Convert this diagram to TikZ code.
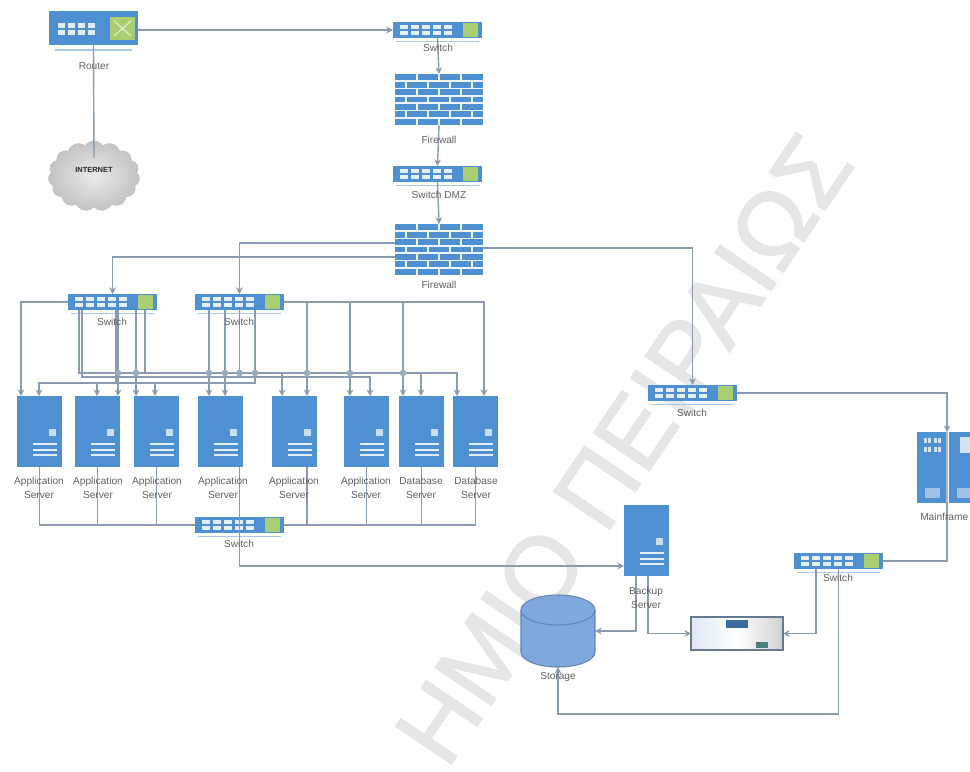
\documentclass[tikz,border=0pt]{standalone}
\usepackage{fontspec}
\setmainfont{Liberation Sans}
\newfontfamily\wmfont[FakeBold=1.6]{Liberation Sans}
\usetikzlibrary{arrows.meta,calc,shapes.symbols}
\definecolor{nblue}{HTML}{4F90D2}
\definecolor{ngreen}{HTML}{A9CF72}
\definecolor{cnc}{HTML}{8A9BB0}
\definecolor{wm}{HTML}{E6E6E6}
\definecolor{lt}{HTML}{A8C8EA}
\definecolor{cyl}{HTML}{7FA8DC}
\definecolor{cyd}{HTML}{5F86B8}
\tikzset{
  swbody/.style={fill=nblue,inner sep=0pt,outer sep=0pt,minimum width=66.75pt,minimum height=12pt,anchor=north west},
  srvbody/.style={fill=nblue,inner sep=0pt,outer sep=0pt,minimum width=33.75pt,minimum height=53.25pt,anchor=north west},
  fwbody/.style={fill=nblue,inner sep=0pt,outer sep=0pt,minimum width=66pt,minimum height=38.25pt,anchor=north west},
  lab/.style={font=\fontsize{7.6}{10.8}\selectfont,text=black!62,align=center,inner sep=0pt},
  cn/.style={draw=cnc,line width=1.05pt},
  cna/.style={cn,-{Stealth[length=5pt,width=5pt]}},
  bump/.style={circle,fill=cnc!85,inner sep=0pt,minimum size=5pt},
}
\newcommand\swt[3]{%
  \node[swbody] (#1) at (#2,#3) {};
  \begin{scope}[shift={(#2,#3)}]
    \foreach \i in {0,...,4}{
      \fill[white!85!nblue] (7+11*\i,3) rectangle ++(8,4);
      \fill[white!85!nblue] (7+11*\i,9) rectangle ++(8,4);
    }
    \fill[ngreen] (70,1) rectangle (85,15);
    \draw[lt,line width=0.7pt] (3,19) -- (86,19);
  \end{scope}}
\newcommand\srv[3]{%
  \node[srvbody] (#1) at (#2,#3) {};
  \begin{scope}[shift={(#2,#3)}]
    \fill[white!70!nblue] (32,33) rectangle ++(6.5,7);
    \foreach \v in {47,53,58}{\fill[white!85!nblue] (16,\v) rectangle ++(24,1.5);}
  \end{scope}}
\newcommand\fwl[3]{%
  \node[fwbody] (#1) at (#2,#3) {};
  \begin{scope}[shift={(#2,#3)}]
    \foreach \r in {1,...,6}{\fill[white!90!nblue] (0,7.29*\r-.8) rectangle (88,7.29*\r+.8);}
    \foreach \r in {0,2,4,6}{\foreach \c in {22,44,66}{\fill[white!90!nblue] (\c-.8,7.29*\r) rectangle (\c+.8,7.29*\r+7.29);}}
    \foreach \r in {1,3,5}{\foreach \c in {11,33,55,77}{\fill[white!90!nblue] (\c-.8,7.29*\r) rectangle (\c+.8,7.29*\r+7.29);}}
  \end{scope}}
\begin{document}
\begin{tikzpicture}[x=0.75pt,y=-0.75pt]
\useasboundingbox (0,0) rectangle (970,771);
\clip (0,0) rectangle (970,771);
\fill[white] (0,0) rectangle (970,771);
% watermark
\node[rotate=56,anchor=south east,inner sep=0pt,text=wm,font=\wmfont\fontsize{73.5}{74}\selectfont] (wmark) at (857,165) {ΗΜΙΟ ΠΕΙΡΑΙΩΣ};
% router
\node[fill=nblue,inner sep=0pt,outer sep=0pt,minimum width=66.75pt,minimum height=25.5pt,anchor=north west] (rt) at (49,11) {};
\foreach \i in {0,1,2,3}{
  \fill[white!85!nblue] (58+10*\i,23) rectangle ++(7,5);
  \fill[white!85!nblue] (58+10*\i,30) rectangle ++(7,5);
}
\fill[ngreen] (110,17) rectangle (135,40);
\draw[white!70!ngreen,line width=0.8pt] (114,21) -- (131,36) (131,21) -- (114,36);
\draw[lt,line width=0.8pt] (55,50) -- (132,50);
% cloud
\node[cloud,cloud puffs=15,cloud puff arc=110,aspect=1.3,inner sep=0pt,minimum width=69pt,minimum height=53pt,shade,inner color=black!8,outer color=black!24] (inet) at (94,176) {};
\coordinate (inetin) at (94,158);
% switches and firewalls
\swt{swa}{393}{22}
\fwl{fwa}{395}{74}
\swt{swd}{393}{166}
\fwl{fwb}{395}{224}
\swt{swL}{68}{294}
\swt{swM}{195}{294}
\swt{swB}{195}{517}
\swt{swR}{648}{385}
\swt{swC}{794}{553}
% servers
\srv{sa}{17}{396}\srv{sb}{75}{396}\srv{sc}{134}{396}\srv{sd}{198}{396}
\srv{se}{272}{396}\srv{sf}{344}{396}\srv{sg}{399}{396}\srv{sh}{453}{396}
\srv{bk}{624}{505}
% mainframe
\node[inner sep=0pt,outer sep=0pt,minimum width=45pt,minimum height=53.25pt,anchor=north west] (mf) at (917,432) {};
\fill[nblue] (917,432) rectangle (946,503);
\fill[nblue] (949,432) rectangle (977,503);
\foreach \a in {924,928,934,938}{\foreach \b in {438,447}{\fill[white!75!nblue] (\a,\b) rectangle ++(2.6,5);}}
\fill[white!75!nblue] (960,437) rectangle (970,453);
\fill[white!45!nblue] (925,488) rectangle (940,498);
\fill[white!45!nblue] (957,488) rectangle (970,498);
% storage
\node[inner sep=0pt,outer sep=0pt,minimum width=55.5pt,minimum height=54pt] (st) at (558,631) {};
\path[fill=cyl,draw=cyd,line width=0.8pt] (521,610) -- (521,652) arc[start angle=180,end angle=0,x radius=37,y radius=15] -- (595,610) arc[start angle=0,end angle=-180,x radius=37,y radius=15] -- cycle;
\path[draw=cyd,line width=0.8pt] (521,610) arc[start angle=180,end angle=0,x radius=37,y radius=15];
% device
\node[inner sep=0pt,outer sep=0pt,minimum width=69pt,minimum height=24.75pt,anchor=north west,draw=black!55!nblue!70,line width=0.9pt,left color=black!8!nblue!18,right color=black!18,middle color=white] (dev) at (691,617) {};
\node[fill=black!25!nblue,inner sep=0pt,minimum width=16pt,minimum height=5.5pt] (devp) at (737,624) {};
\node[fill=black!45!teal!70,inner sep=0pt,minimum width=9.5pt,minimum height=4.5pt] (devq) at (762,645) {};
% connectors
\draw[cna] (rt.east |- swa.west) -- (swa.west);
\draw[cn] (rt.south) -- (inetin);
\draw[cna] (swa.south) -- (fwa.north);
\draw[cna] (fwa.south) -- (swd.north);
\draw[cna] (swd.south) -- (fwb.north);
\draw[cna] ($(fwb.north west)+(0,19)$) -| (swM.north);
\draw[cna] ($(fwb.north west)+(0,33)$) -| (swL.north);
\draw[cna] ($(fwb.north east)+(0,24)$) -| (swR.north);
% left switch
\draw[cna] (swL.west) -| ($(sa.north west)+(4,0)$);
\draw[cna] ($(swL.south west)+(11,0)$) -- ++(0,63) -| ($(sh.north west)+(4,0)$);
\draw[cna] ($(swL.south west)+(14,0)$) -- ++(0,67) -| ($(sf.north west)+(26,0)$);
\draw[cna] ($(swL.south west)+(48,0)$) -- ++(0,73) -| ($(sb.north west)+(22,0)$);
\draw[cna] ($(swL.south west)+(50,0)$) -- ($(sb.north west)+(43,0)$);
\draw[cna] ($(swL.south west)+(68,0)$) -- ($(sc.north west)+(2,0)$);
\draw[cna] ($(swL.south west)+(77,0)$) -- ++(0,63) -| ($(se.north west)+(10,0)$);
% middle switch
\draw[cna] ($(swM.south west)+(14,0)$) -- ($(sd.north west)+(11,0)$);
\draw[cna] ($(swM.south west)+(30,0)$) -- ($(sd.north west)+(27,0)$);
\draw[cna] (swM.south) -- ++(0,63) -| ($(sg.north west)+(22,0)$);
\draw[cna] ($(swM.south west)+(60,0)$) -- ++(0,73) -| ($(sa.north west)+(22,0)$);
\draw[cna] ($(sc.north west)+(21,-13)$) -- ($(sc.north west)+(21,0)$);
\draw[cna] (swM.east) -| ($(sh.north west)+(31,0)$);
\draw[cna] ($(se.north west)+(35,-93)$) -- ($(se.north west)+(35,0)$);
\draw[cna] ($(sf.north west)+(6,-93)$) -- ($(sf.north west)+(6,0)$);
\draw[cna] ($(sg.north west)+(4,-93)$) -- ($(sg.north west)+(4,0)$);
\foreach \n/\x in {ba/118,bb/136,bc/209,bd/225,be/239.5,bf/255,bg/307,bh/350,bi/403}{
  \node[bump] (\n) at (\x,373) {};
}
% bottom switch
\draw[cn] (sa.south) |- (swB.west);
\draw[cn] (sb.south) |- (swB.west);
\draw[cn] (sc.south) |- (swB.west);
\draw[cn] ($(se.south west)+(35,0)$) |- (swB.east);
\draw[cn] (sf.south) |- (swB.east);
\draw[cn] (sg.south) |- (swB.east);
\draw[cn] (sh.south) |- (swB.east);
\draw[cna] ($(sd.south west)+(41.5,0)$) |- ($(bk.south west)+(0,-10)$);
% right side
\draw[cna] (swR.east) -| (mf.north);
\draw[cn] (mf.south) |- (swC.east);
\draw[cna] ($(swC.south west)+(22,0)$) |- (dev.east);
\draw[cna] (swC.south) -- ++(0,145) -| (st.south);
\draw[cna] ($(bk.south west)+(12,0)$) |- (st.east);
\draw[cna] ($(bk.south west)+(24,0)$) |- (dev.west);
\draw[cnc!70!white,line width=1.2pt] (mf.north) -- (mf.south);
% labels
\node[lab] (rtl) at (94,66) {Router};
\node[lab,font=\bfseries\fontsize{5.6}{7}\selectfont,text=black!85] (inetl) at (94,170) {INTERNET};
\node[lab] (swal) at (438,48) {Switch};
\node[lab] (fwal) at (439,140) {Firewall};
\node[lab] (swdl) at (439,195) {Switch DMZ};
\node[lab] (fwbl) at (439,285) {Firewall};
\node[lab] (swLl) at (112,322) {Switch};
\node[lab] (swMl) at (239,322) {Switch};
\node[lab] (swBl) at (239,544) {Switch};
\node[lab] (swRl) at (692,413) {Switch};
\node[lab] (swCl) at (838,578) {Switch};
\node[lab] (sal) at (39,488) {Application\\Server};
\node[lab] (sbl) at (98,488) {Application\\Server};
\node[lab] (scl) at (157,488) {Application\\Server};
\node[lab] (sdl) at (223,488) {Application\\Server};
\node[lab] (sel) at (294,488) {Application\\Server};
\node[lab] (sfl) at (366,488) {Application\\Server};
\node[lab] (sgl) at (421,488) {Database\\Server};
\node[lab] (shl) at (476,488) {Database\\Server};
\node[lab] (bkl) at (646,598) {Backup\\Server};
\node[lab] (stl) at (558,677) {Storage};
\node[lab,anchor=west] (mfl) at (920,517) {Mainframe};
\end{tikzpicture}
\end{document}
